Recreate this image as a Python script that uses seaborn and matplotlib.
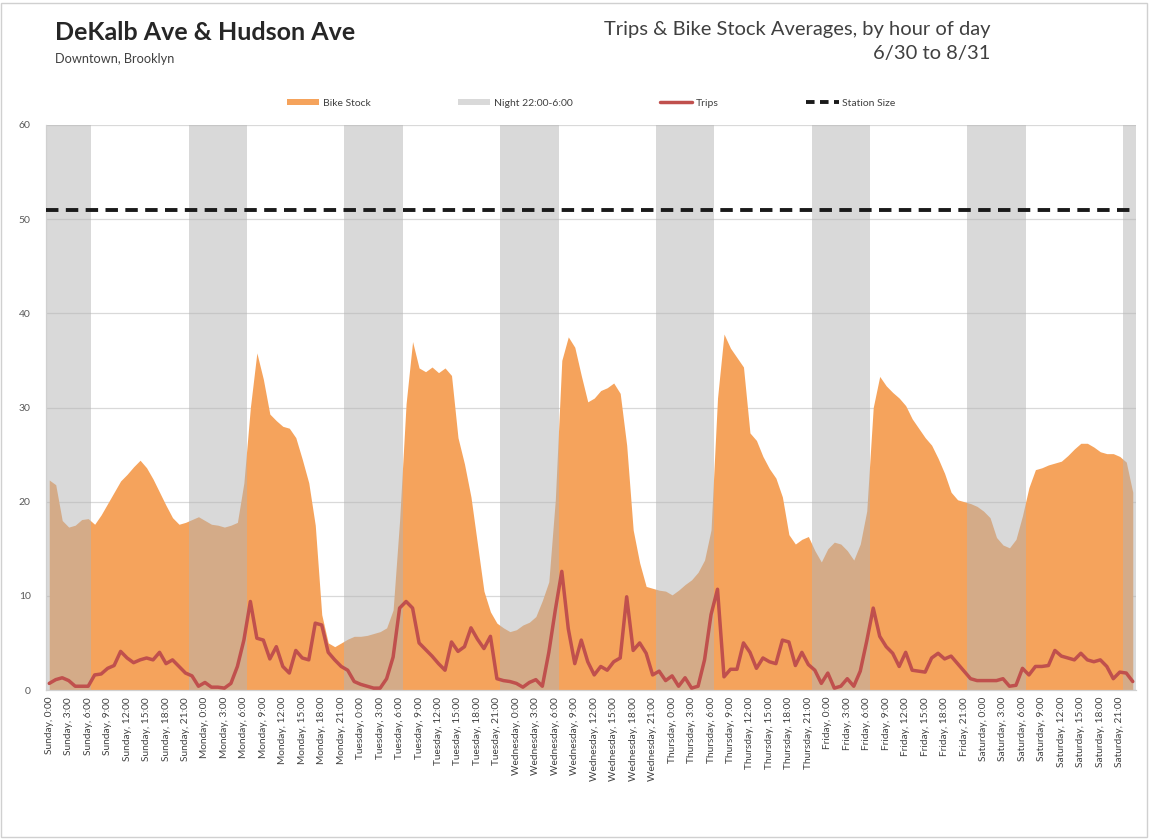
import numpy as np
import pandas as pd
import matplotlib
matplotlib.use("Agg")
import matplotlib.pyplot as plt
import seaborn as sns
from matplotlib.patches import Patch, Rectangle
from matplotlib.lines import Line2D

# ---- data: hourly averages, Sunday 0:00 through Saturday 23:00 ----
DAYS = ["Sunday", "Monday", "Tuesday", "Wednesday", "Thursday", "Friday", "Saturday"]
NIGHT_HOURS = [22, 23, 0, 1, 2, 3, 4, 5, 6]
STATION_SIZE = 51
Y_MAX = 60

bike_stock = [
    22.3, 21.8, 18.0, 17.3, 17.5, 18.1, 18.2, 17.6, 18.6, 19.8, 21.0, 22.2,
    22.9, 23.7, 24.4, 23.6, 22.4, 21.0, 19.6, 18.3, 17.6, 17.8, 18.1, 18.4,   # Sun
    18.0, 17.6, 17.5, 17.3, 17.5, 17.8, 22.0, 30.0, 35.8, 33.0, 29.3, 28.6,
    28.0, 27.8, 26.8, 24.5, 22.0, 17.5, 8.0, 5.0, 4.6, 5.0, 5.4, 5.7,         # Mon
    5.7, 5.8, 6.0, 6.2, 6.6, 8.5, 18.0, 30.4, 37.0, 34.2, 33.8, 34.3,
    33.7, 34.2, 33.4, 26.8, 24.0, 20.5, 15.5, 10.5, 8.3, 7.1, 6.6, 6.2,       # Tue
    6.4, 6.9, 7.2, 7.8, 9.5, 11.5, 20.2, 35.0, 37.5, 36.4, 33.4, 30.6,
    31.0, 31.8, 32.1, 32.6, 31.5, 26.0, 17.0, 13.5, 11.0, 10.8, 10.6, 10.5,  # Wed
    10.1, 10.6, 11.2, 11.7, 12.5, 13.8, 17.0, 31.0, 37.8, 36.3, 35.3, 34.3,
    27.3, 26.5, 24.8, 23.5, 22.5, 20.5, 16.5, 15.5, 16.0, 16.3, 14.8, 13.6,  # Thu
    15.0, 15.7, 15.5, 14.8, 13.8, 15.5, 19.0, 30.0, 33.3, 32.3, 31.6, 31.0,
    30.2, 28.8, 27.8, 26.8, 26.0, 24.6, 23.0, 21.0, 20.2, 20.0, 19.8, 19.5,  # Fri
    19.0, 18.3, 16.2, 15.4, 15.1, 16.0, 18.5, 21.5, 23.4, 23.6, 23.9, 24.1,
    24.3, 24.9, 25.6, 26.2, 26.2, 25.8, 25.3, 25.1, 25.1, 24.8, 24.2, 21.0,  # Sat
]

trips = [
    0.7, 1.1, 1.3, 1.0, 0.4, 0.4, 0.4, 1.6, 1.7, 2.3, 2.6, 4.1,
    3.4, 2.9, 3.2, 3.4, 3.2, 4.0, 2.8, 3.2, 2.5, 1.8, 1.5, 0.4,              # Sun
    0.8, 0.3, 0.3, 0.2, 0.7, 2.5, 5.3, 9.4, 5.5, 5.3, 3.3, 4.6,
    2.5, 1.8, 4.2, 3.4, 3.2, 7.1, 6.9, 4.0, 3.2, 2.5, 2.1, 0.9,              # Mon
    0.6, 0.4, 0.2, 0.2, 1.2, 3.5, 8.7, 9.4, 8.7, 5.0, 4.3, 3.6,
    2.8, 2.1, 5.1, 4.1, 4.6, 6.6, 5.4, 4.4, 5.7, 1.2, 1.0, 0.9,              # Tue
    0.7, 0.3, 0.8, 1.1, 0.4, 4.0, 8.5, 12.6, 6.5, 2.8, 5.3, 3.0,
    1.6, 2.5, 2.1, 3.0, 3.4, 9.9, 4.2, 5.0, 3.9, 1.6, 2.0, 1.0,              # Wed
    1.5, 0.4, 1.3, 0.2, 0.4, 3.2, 8.0, 10.7, 1.4, 2.2, 2.2, 5.0,
    4.0, 2.3, 3.4, 3.0, 2.8, 5.3, 5.1, 2.6, 4.0, 2.7, 2.1, 0.7,              # Thu
    1.8, 0.2, 0.4, 1.2, 0.4, 2.0, 5.2, 8.7, 5.7, 4.6, 3.9, 2.5,
    4.0, 2.1, 2.0, 1.9, 3.4, 3.9, 3.3, 3.6, 2.8, 2.0, 1.2, 1.0,              # Fri
    1.0, 1.0, 1.0, 1.2, 0.4, 0.5, 2.3, 1.6, 2.5, 2.5, 2.6, 4.2,
    3.6, 3.4, 3.2, 3.9, 3.2, 3.0, 3.2, 2.5, 1.2, 1.9, 1.8, 0.9,              # Sat
]

TICK_HOURS = [0, 3, 6, 9, 12, 15, 18, 21]

# ---- styling ----
ORANGE = "#F5A35C"
NIGHT_GRAY = "#B4B4B4"
TRIP_RED = "#C0504D"
TEXT = "#404040"

sns.set_theme(style="white")
plt.rcParams["font.family"] = ["Lato", "DejaVu Sans"]

W, H = 1150, 839
fig = plt.figure(figsize=(W / 100, H / 100), dpi=100)
fig.patch.set_facecolor("white")

left, right, top, bottom = 46, 1136, 125, 690
ax = fig.add_axes([left / W, 1 - bottom / H, (right - left) / W, (bottom - top) / H])

n = len(bike_stock)
hour_idx = np.arange(n)
df = pd.DataFrame({
    "slot": hour_idx,
    "pos": hour_idx + 0.5,
    "hour": hour_idx % 24,
    "day": [DAYS[i // 24] for i in hour_idx],
    "stock": bike_stock,
    "trips": trips,
})
df["night"] = df["hour"].isin(NIGHT_HOURS)

# bike stock area
ax.fill_between(df["pos"], df["stock"], color=ORANGE, lw=0, zorder=1)

# night bands (22:00-6:00), semi-transparent over the area
night_df = df[df["night"]]
ax.bar(night_df["slot"], Y_MAX, width=1.0, align="edge", color=NIGHT_GRAY,
       alpha=0.5, lw=0, zorder=2)

# trips line
sns.lineplot(data=df, x="pos", y="trips", color=TRIP_RED, lw=2.5, ax=ax,
             zorder=3, legend=False)

# station capacity
ax.axhline(STATION_SIZE, color="#1a1a1a", lw=2.8, dashes=(3.2, 1.9), zorder=4)

ax.set_xlim(0, n)
ax.set_ylim(0, Y_MAX)
ax.set_yticks(range(0, Y_MAX + 1, 10))
ax.yaxis.grid(True, color="#D9D9D9", lw=0.9)
ax.xaxis.grid(False)
ax.set_axisbelow(True)

tick_df = df[df["hour"].isin(TICK_HOURS)]
ax.set_xticks(tick_df["pos"])
ax.set_xticklabels([f"{d}, {h}:00" for d, h in zip(tick_df["day"], tick_df["hour"])],
                   rotation=90, fontsize=7.3, color=TEXT)
ax.tick_params(axis="x", length=0, pad=5)
ax.tick_params(axis="y", length=0, pad=11, labelsize=7.5, labelcolor="#595959")
ax.set_xlabel("")
ax.set_ylabel("")

for side in ["top", "right"]:
    ax.spines[side].set_visible(False)
ax.spines["left"].set_color("#D0D0D0")
ax.spines["bottom"].set_color("#D0D0D0")
ax.spines["left"].set_linewidth(0.9)
ax.spines["bottom"].set_linewidth(0.9)

# ---- titles ----
fig.text(55 / W, 1 - 32 / H, "DeKalb Ave & Hudson Ave", fontsize=18,
         fontweight="bold", color="#262626", ha="left", va="center")
fig.text(55 / W, 1 - 59 / H, "Downtown, Brooklyn", fontsize=9.2,
         color=TEXT, ha="left", va="center")
fig.text(990 / W, 1 - 30 / H, "Trips & Bike Stock Averages, by hour of day",
         fontsize=14.5, color=TEXT, ha="right", va="center")
fig.text(990 / W, 1 - 53 / H, "6/30 to 8/31", fontsize=14.5, color=TEXT,
         ha="right", va="center")

# ---- legend ----
handles = [
    Patch(facecolor=ORANGE, edgecolor="none"),
    Patch(facecolor="#D9D9D9", edgecolor="none"),
    Line2D([], [], color=TRIP_RED, lw=2.5),
    Line2D([], [], color="#1a1a1a", lw=2.8, dashes=(2.2, 1.4)),
]
labels = ["Bike Stock", "Night 22:00-6:00", "Trips", "Station Size"]
fig.legend(handles, labels, loc="center", bbox_to_anchor=(591 / W, 1 - 103 / H),
           ncol=4, frameon=False, fontsize=7.5, labelcolor=TEXT,
           columnspacing=8.4, handlelength=3.1, handleheight=0.5,
           handletextpad=0.35)

# chart border
fig.add_artist(Rectangle((1 / W, 2 / H), (W - 4) / W, (H - 5) / H,
                         transform=fig.transFigure, fill=False,
                         edgecolor="#D0D0D0", lw=1.0))

fig.savefig("out.png", dpi=100, facecolor="white")
